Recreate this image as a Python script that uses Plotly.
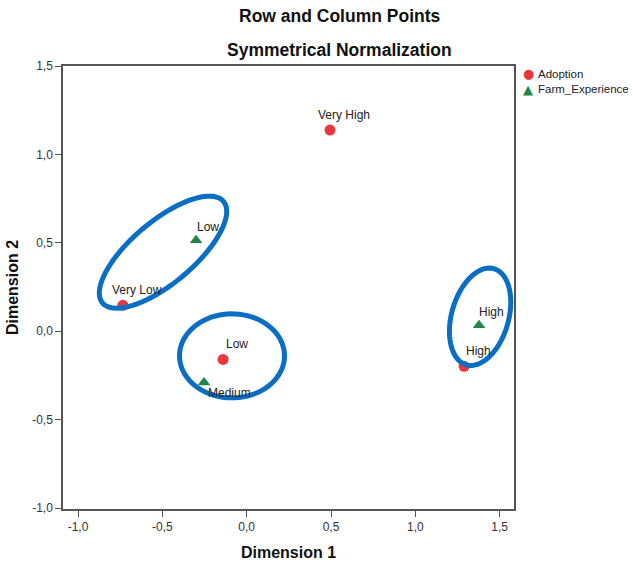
import numpy as np
import plotly.graph_objects as go

# ---- data ----
adopt_labels = ["Very High", "Very Low", "Low", "High"]
adopt_x = [0.494, -0.734, -0.140, 1.289]
adopt_y = [1.138, 0.147, -0.159, -0.198]

farm_labels = ["Low", "Medium", "High"]
farm_x = [-0.300, -0.253, 1.378]
farm_y = [0.515, -0.289, 0.034]

tick_vals = [-1.0, -0.5, 0.0, 0.5, 1.0, 1.5]
tick_text = ["-1,0", "-0,5", "0,0", "0,5", "1,0", "1,5"]

# highlight ellipses: centre (data units), semi-axes (px), rotation (deg)
ell_cx = [-0.496, -0.087, 1.384]
ell_cy = [0.447, -0.139, 0.082]
ell_a = [79, 52.5, 50]
ell_b = [31, 42, 28.5]
ell_rot = [40, 0, 74]

# ---- layout geometry ----
W, H = 633, 564
ML, MR, MT, MB = 63, 119, 66, 55
PW, PH = W - ML - MR, H - MT - MB
xr = [-1.089, 1.585]
yr = [-1.005, 1.5]
sx = PW / (xr[1] - xr[0])
sy = PH / (yr[1] - yr[0])

RED = "#E8383D"
GREEN = "#21864A"
BLUE = "#0A6FC2"
FONT = "Liberation Sans, Arial, sans-serif"


def px2paper_x(px):
    return (px - ML) / PW


def px2paper_y(py):
    return (H - MB - py) / PH


fig = go.Figure()
fig.add_trace(go.Scatter(x=adopt_x, y=adopt_y, mode="markers", name="Adoption",
                         marker=dict(symbol="circle", size=11, color=RED)))
fig.add_trace(go.Scatter(x=farm_x, y=farm_y, mode="markers", name="Farm_Experience",
                         marker=dict(symbol="triangle-up", size=11, color=GREEN)))

annots = []
for lab, x, y in zip(adopt_labels, adopt_x, adopt_y):
    annots.append(dict(x=x, y=y, text=lab, showarrow=False, xshift=14, yshift=15,
                       font=dict(size=12, color="#222", family=FONT)))
for lab, x, y in zip(farm_labels, farm_x, farm_y):
    if lab == "Medium":
        annots.append(dict(x=x, y=y, text=lab, showarrow=False, xanchor="left",
                           xshift=2, yshift=-11,
                           font=dict(size=12, color="#222", family=FONT)))
    else:
        annots.append(dict(x=x, y=y, text=lab, showarrow=False, xshift=12, yshift=13,
                           font=dict(size=12, color="#222", family=FONT)))

# titles
annots.append(dict(xref="paper", yref="paper", x=px2paper_x(339.5), y=px2paper_y(16),
                   xanchor="center", yanchor="middle", text="<b>Row and Column Points</b>",
                   showarrow=False, font=dict(size=17.5, color="#111", family=FONT)))
annots.append(dict(xref="paper", yref="paper", x=px2paper_x(339.5), y=px2paper_y(50),
                   xanchor="center", yanchor="middle", text="<b>Symmetrical Normalization</b>",
                   showarrow=False, font=dict(size=17.5, color="#111", family=FONT)))

# compact legend (series names with their marker glyphs)
legend_items = [("Adoption", "●", RED, 74), ("Farm_Experience", "▲", GREEN, 89)]
for name, glyph, col, ly in legend_items:
    annots.append(dict(xref="paper", yref="paper", x=px2paper_x(528), y=px2paper_y(ly),
                       xanchor="center", yanchor="middle", text=glyph, showarrow=False,
                       font=dict(size=13, color=col, family="DejaVu Sans")))
    annots.append(dict(xref="paper", yref="paper", x=px2paper_x(536), y=px2paper_y(ly),
                       xanchor="left", yanchor="middle", text=name, showarrow=False,
                       font=dict(size=11.5, color="#222", family=FONT)))

shapes = []
t = np.linspace(0, 2 * np.pi, 80)
for cx, cy, a, b, r in zip(ell_cx, ell_cy, ell_a, ell_b, ell_rot):
    th = np.radians(r)
    dx = a * np.cos(t) * np.cos(th) - b * np.sin(t) * np.sin(th)
    dy = a * np.cos(t) * np.sin(th) + b * np.sin(t) * np.cos(th)
    px = cx + dx / sx
    py = cy + dy / sy
    path = "M " + " L ".join(f"{u:.5f},{v:.5f}" for u, v in zip(px, py)) + " Z"
    shapes.append(dict(type="path", path=path, xref="x", yref="y",
                       line=dict(color=BLUE, width=5), layer="above"))

axis_common = dict(showgrid=False, zeroline=False, showline=True, linecolor="#555",
                   linewidth=1.5, mirror=True, ticks="outside", ticklen=6,
                   tickcolor="#555", tickwidth=1.2, tickvals=tick_vals, ticktext=tick_text,
                   tickfont=dict(size=12, color="#333", family=FONT))

fig.update_layout(
    width=W, height=H, autosize=False,
    margin=dict(l=ML, r=MR, t=MT, b=MB, autoexpand=False),
    paper_bgcolor="white", plot_bgcolor="white",
    font=dict(family=FONT),
    xaxis=dict(range=xr, title=dict(text="<b>Dimension 1</b>", font=dict(size=16, color="#111"),
                                    standoff=14), **axis_common),
    yaxis=dict(range=yr, title=dict(text="<b>Dimension 2</b>", font=dict(size=16, color="#111"),
                                    standoff=10), **axis_common),
    showlegend=False,
    annotations=annots,
    shapes=shapes,
)

fig.write_html("out.html")
